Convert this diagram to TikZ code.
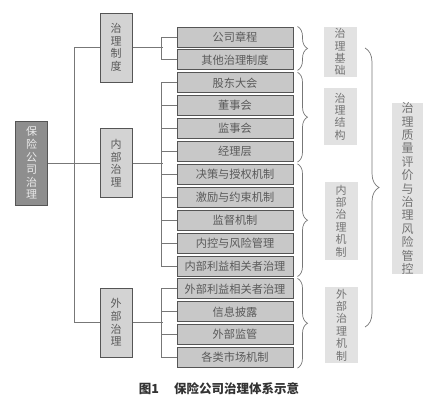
\documentclass[tikz,border=0pt]{standalone}
\usepackage{fontspec}
\setmainfont{Noto Sans CJK SC}
\usetikzlibrary{decorations.pathreplacing}
\definecolor{itemfill}{HTML}{C8C8C8}
\definecolor{midfill}{HTML}{D3D3D3}
\definecolor{rootfill}{HTML}{8E8E8E}
\definecolor{tagfill}{HTML}{E2E2E2}
\definecolor{edgegray}{HTML}{555555}
\definecolor{wiregray}{HTML}{777777}
\definecolor{textgray}{HTML}{5A5A5A}
\begin{document}
\begin{tikzpicture}[x=1pt,y=-1pt]
\tikzstyle{every node}+=[inner sep=0pt]
\tikzstyle{item}=[draw=edgegray, line width=1pt, fill=itemfill, text=textgray, minimum width=116, minimum height=20, font=\fontsize{11.2}{12}\selectfont]
\tikzstyle{mid}=[draw=edgegray, line width=1pt, fill=midfill, text=textgray, align=center, text width=12, minimum width=32, minimum height=69, font=\fontsize{11}{12.6}\selectfont]
\tikzstyle{tag}=[fill=tagfill, text=textgray!85, align=center, text width=12, minimum width=33, font=\fontsize{11}{12.4}\selectfont]
\tikzstyle{wire}=[wiregray, line width=0.9pt]
\tikzstyle{brc}=[wiregray, line width=0.7pt, decorate, decoration={brace, amplitude=10pt}]
\useasboundingbox (0,0) rectangle (439,407);
% root and second level
\node[mid, fill=rootfill, text=white!92!black, minimum height=84] (root) at (31.5,163) {保\\险\\公\\司\\治\\理};
\node[mid] (zd) at (116,47.5) {治\\理\\制\\度};
\node[mid] (nb) at (116,163) {内\\部\\治\\理};
\node[mid] (wb) at (116,322.5) {外\\部\\治\\理};
% items
\node[item] (a1) at (235,37) {公司章程};
\node[item] (a2) at (235,59.9) {其他治理制度};
\node[item] (a3) at (235,82.8) {股东大会};
\node[item] (a4) at (235,105.7) {董事会};
\node[item] (a5) at (235,128.6) {监事会};
\node[item] (a6) at (235,151.5) {经理层};
\node[item] (a7) at (235,174.4) {决策与授权机制};
\node[item] (a8) at (235,197.3) {激励与约束机制};
\node[item] (a9) at (235,220.2) {监督机制};
\node[item] (a10) at (235,243.1) {内控与风险管理};
\node[item] (a11) at (235,266) {内部利益相关者治理};
\node[item] (a12) at (235,288.9) {外部利益相关者治理};
\node[item] (a13) at (235,311.8) {信息披露};
\node[item] (a14) at (235,334.7) {外部监管};
\node[item] (a15) at (235,357.6) {各类市场机制};
% connectors
\draw[wire] (root.east) -- (nb.west);
\draw[wire] (zd.west) -- ++(-25,0) |- (wb.west);
\draw[wire] (zd.east) -- ++(30,0);
\draw[wire] (a1.west) -- ++(-15,0) |- (a2.west);
\draw[wire] (nb.east) -- ++(30,0);
\draw[wire] (a3.west) -- ++(-15,0) |- (a11.west);
\draw[wire] (a4.west) -- ++(-15,0);
\draw[wire] (a5.west) -- ++(-15,0);
\draw[wire] (a6.west) -- ++(-15,0);
\draw[wire] (a7.west) -- ++(-15,0);
\draw[wire] (a8.west) -- ++(-15,0);
\draw[wire] (a9.west) -- ++(-15,0);
\draw[wire] (a10.west) -- ++(-15,0);
\draw[wire] (wb.east) -- ++(30,0);
\draw[wire] (a12.west) -- ++(-15,0) |- (a15.west);
\draw[wire] (a13.west) -- ++(-15,0);
\draw[wire] (a14.west) -- ++(-15,0);
% braces
\draw[brc] ([xshift=4pt]a1.north east) -- ([xshift=4pt]a2.south east);
\draw[brc] ([xshift=4pt]a3.north east) -- ([xshift=4pt]a6.south east);
\draw[brc] ([xshift=4pt]a7.north east) -- ([xshift=4pt]a11.south east);
\draw[brc] ([xshift=4pt]a12.north east) -- ([xshift=4pt]a15.south east);
\draw[brc, decoration={brace, amplitude=14pt}] (365,48) -- (365,327);
% labels
\node[tag, minimum height=50] (jc) at (340,52) {治\\理\\基\\础};
\node[tag, minimum height=57] (jg) at (340,116.5) {治\\理\\结\\构};
\node[tag, minimum height=78] (nj) at (341,221) {内\\部\\治\\理\\机\\制};
\node[tag, minimum height=76] (wj) at (341.5,325) {外\\部\\治\\理\\机\\制};
\node[tag, minimum width=31, minimum height=167, font=\fontsize{12}{13.4}\selectfont] (zl) at (407.5,188.5) {治\\理\\质\\量\\评\\价\\与\\治\\理\\风\\险\\管\\控};
% caption
\node[font=\fontsize{12.5}{14}\selectfont\bfseries, text=black!80] (cap) at (219,389) {图1\hspace{1.2em}保险公司治理体系示意};
\end{tikzpicture}
\end{document}
